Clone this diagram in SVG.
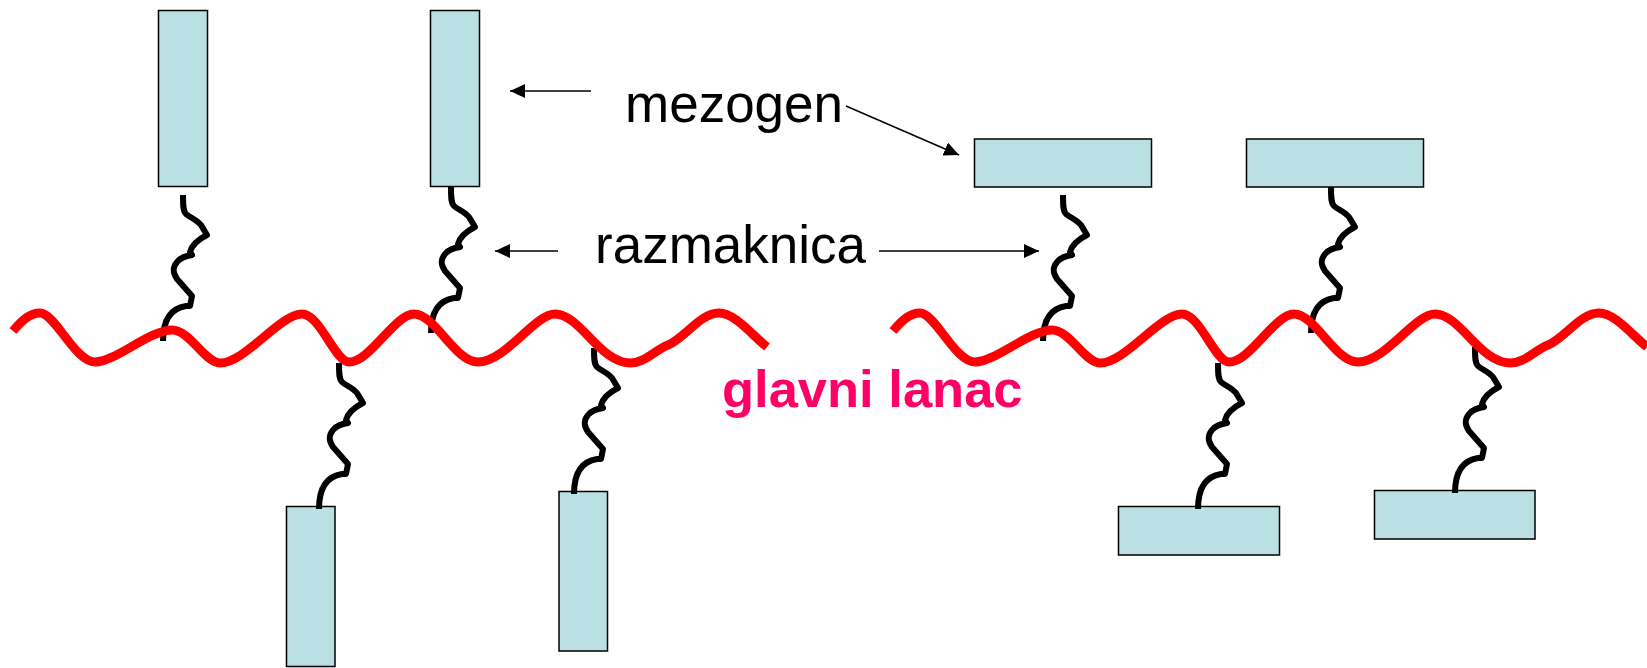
<svg xmlns="http://www.w3.org/2000/svg" xmlns:xlink="http://www.w3.org/1999/xlink" width="1647" height="668" viewBox="0 0 1647 668">
<style>
.meso{fill:#BBE0E3;stroke:#000;stroke-width:1.5}
.spacer{fill:none;stroke:#000;stroke-width:6;stroke-linejoin:round}
.chain{fill:none;stroke:#FF0000;stroke-width:9;stroke-linejoin:round}
.arrow{fill:none;stroke:#000;stroke-width:1.5}
.lbl{font-family:"Liberation Sans",Arial,sans-serif;font-size:53px;fill:#000}
.main{font-family:"Liberation Sans",Arial,sans-serif;font-size:52.5px;font-weight:bold;fill:#FF0066}
</style>
<defs>
<marker id="ah" markerUnits="userSpaceOnUse" markerWidth="16" markerHeight="14" refX="15" refY="7" orient="auto">
<path d="M0,0 L15,7 L0,14 Z" fill="#000"/>
</marker>
<path id="sp" class="spacer" d="M0,0 C0,10 0,16 3,19 C8,23 14,25 18,30 L24,40 C16,44 9,50 7,57 L9,60 C3,61 -2,62 -6,67 C-11,73 -10,78 -6,84 L9,101 L7,111 L3,111 C-10,113 -20,122 -20,146"/>
<path id="wave" class="chain" d="M13,331 C22,320 30,313 40,313 C55,313 75,362 95,362 C115,362 150,330 172,330 C190,330 205,363 220,363 C245,363 280,314 302,314 C320,314 335,362 349,362 C370,362 395,314 414,314 C435,314 455,362 478,362 C505,362 535,314 555,314 C580,314 600,363 630,363 C645,363 655,350 668,345 C685,338 700,313 719,313 C735,313 752,335 767,347"/>
</defs>
<g id="mesogen-1"><rect class="meso" x="158.5" y="10.5" width="49" height="176"/></g>
<g id="mesogen-2"><rect class="meso" x="430.5" y="10.5" width="49" height="176"/></g>
<g id="mesogen-3"><rect class="meso" x="286.5" y="506.5" width="48.5" height="160"/></g>
<g id="mesogen-4"><rect class="meso" x="559" y="491.5" width="48.5" height="159.5"/></g>
<g id="mesogen-5"><rect class="meso" x="974.5" y="139" width="177" height="48"/></g>
<g id="mesogen-6"><rect class="meso" x="1246.5" y="139" width="177" height="48"/></g>
<g id="mesogen-7"><rect class="meso" x="1118.5" y="506.5" width="161" height="48.5"/></g>
<g id="mesogen-8"><rect class="meso" x="1374.5" y="490.5" width="160.5" height="48.5"/></g>
<g id="connectors">
<use href="#sp" x="183" y="195"/>
<use href="#sp" x="451" y="187"/>
<use href="#sp" x="339" y="363"/>
<use href="#sp" x="594" y="348"/>
<use href="#sp" x="1063" y="195"/>
<use href="#sp" x="1331" y="187"/>
<use href="#sp" x="1218" y="363"/>
<use href="#sp" x="1475" y="347"/>
<path class="arrow" d="M591,91 L510,91" marker-end="url(#ah)"/>
<path class="arrow" d="M846,106 L959,155" marker-end="url(#ah)"/>
<path class="arrow" d="M558,251 L495,251" marker-end="url(#ah)"/>
<path class="arrow" d="M879,251 L1039,251" marker-end="url(#ah)"/>
</g>
<g id="main-chain-left"><use href="#wave"/></g>
<g id="main-chain-right"><use href="#wave" x="880" y="0"/></g>
<g id="labels">
<text class="lbl" x="625" y="122">mezogen</text>
<text class="lbl" x="595" y="263">razmaknica</text>
<text class="main" x="722" y="407">glavni lanac</text>
</g>
</svg>
